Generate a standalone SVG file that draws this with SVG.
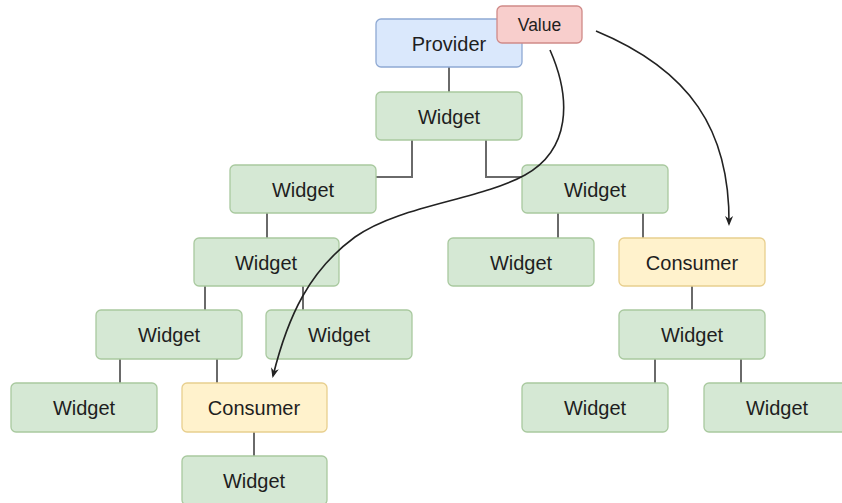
<svg xmlns="http://www.w3.org/2000/svg" width="842" height="503" viewBox="0 0 842 503">
<style>
rect{stroke-width:1.3}
.g{fill:#d5e8d4;stroke:#a9c99f}
.b{fill:#dae8fc;stroke:#8fa9d3}
.r{fill:#f8cecc;stroke:#d08a88}
.y{fill:#fff2cc;stroke:#e8cf8e}
text{font-family:"Liberation Sans",Arial,sans-serif;font-size:20px;fill:#1e1e1e;text-anchor:middle;dominant-baseline:central}
.t{stroke:#6a6a6a;stroke-width:2;fill:none}
.a{stroke:#222;stroke-width:1.6;fill:none;marker-end:url(#ah)}
</style>
<defs>
<marker id="ah" viewBox="0 0 10 10" refX="8" refY="5" markerWidth="10" markerHeight="10" markerUnits="userSpaceOnUse" orient="auto">
<path d="M0,1 L10,5 L0,9 L3,5 Z" fill="#222"/>
</marker>
</defs>
<rect width="842" height="503" fill="#fff"/>
<g id="connectors">
<path class="t" d="M449 67 V92"/>
<path class="t" d="M412 140 V177 H376"/>
<path class="t" d="M486 140 V177 H522"/>
<path class="t" d="M267 213 V238"/>
<path class="t" d="M558 213 V238"/>
<path class="t" d="M643 213 V238"/>
<path class="t" d="M205 286 V310"/>
<path class="t" d="M303 286 V310"/>
<path class="t" d="M692 286 V310"/>
<path class="t" d="M120 359 V383"/>
<path class="t" d="M217 359 V383"/>
<path class="t" d="M655 359 V383"/>
<path class="t" d="M741 359 V383"/>
<path class="t" d="M254 432 V456"/>
</g>
<g id="provider"><rect class="b" x="376" y="19" width="146" height="48" rx="5"/><text x="449" y="44">Provider</text></g>
<g id="w1"><rect class="g" x="376" y="92" width="146" height="48" rx="5"/><text x="449" y="117">Widget</text></g>
<g id="w2a"><rect class="g" x="230" y="165" width="146" height="48" rx="5"/><text x="303" y="190">Widget</text></g>
<g id="w2b"><rect class="g" x="522" y="165" width="146" height="48" rx="5"/><text x="595" y="190">Widget</text></g>
<g id="w3a"><rect class="g" x="194" y="238" width="145" height="48" rx="5"/><text x="266" y="263">Widget</text></g>
<g id="w3b"><rect class="g" x="448" y="238" width="146" height="48" rx="5"/><text x="521" y="263">Widget</text></g>
<g id="c1"><rect class="y" x="619" y="238" width="146" height="48" rx="5"/><text x="692" y="263">Consumer</text></g>
<g id="w4a"><rect class="g" x="96" y="310" width="146" height="49" rx="5"/><text x="169" y="335">Widget</text></g>
<g id="w4b"><rect class="g" x="266" y="310" width="146" height="49" rx="5"/><text x="339" y="335">Widget</text></g>
<g id="w4c"><rect class="g" x="619" y="310" width="146" height="49" rx="5"/><text x="692" y="335">Widget</text></g>
<g id="w5a"><rect class="g" x="11" y="383" width="146" height="49" rx="5"/><text x="84" y="408">Widget</text></g>
<g id="c2"><rect class="y" x="182" y="383" width="145" height="49" rx="5"/><text x="254" y="408">Consumer</text></g>
<g id="w5b"><rect class="g" x="522" y="383" width="146" height="49" rx="5"/><text x="595" y="408">Widget</text></g>
<g id="w5c"><rect class="g" x="704" y="383" width="146" height="49" rx="5"/><text x="777" y="408">Widget</text></g>
<g id="w6"><rect class="g" x="182" y="456" width="145" height="49" rx="5"/><text x="254" y="481">Widget</text></g>
<g id="value"><rect class="r" x="497" y="6" width="85" height="37" rx="5"/><text x="539.5" y="24.5" style="font-size:17.5px">Value</text></g>
<g id="arrows">
<path class="a" d="M596 31 C690 70 730 130 729 224"/>
<path class="a" d="M550 50 C572 100 570 150 525 175 C480 200 400 205 355 237 C310 270 288 315 273 376"/>
</g>
</svg>
